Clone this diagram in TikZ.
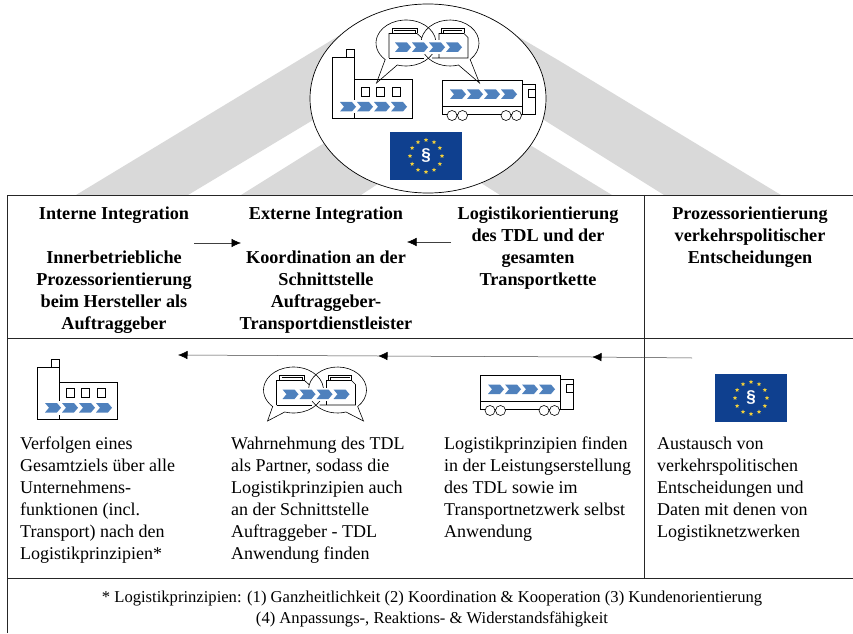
\documentclass[tikz,border=0pt]{standalone}
\usepackage{fontspec}
\setmainfont{Liberation Serif}
\setsansfont{Liberation Sans}
\usepackage{tikz}
\usetikzlibrary{arrows.meta, shapes.geometric}

\definecolor{bandgrey}{HTML}{D9D9D9}
\definecolor{chevblue}{HTML}{4F81BD}
\definecolor{flagblue}{HTML}{0F408F}
\definecolor{stargold}{HTML}{F2D03B}

\tikzset{
	bandfill/.style={fill=bandgrey, draw=none},
	rule/.style={line width=0.9pt, black!85},
	flow/.style={-{Latex[length=9.5pt,width=8.5pt,black]}, line width=0.5pt, black!75},
	icon/.style={line width=0.6pt, black},
	head/.style={font=\fontsize{18.2}{22}\selectfont\bfseries, align=center, anchor=north, inner sep=0pt},
	body/.style={font=\fontsize{18}{22}\selectfont, align=left, anchor=north west, inner sep=0pt},
	foot/.style={font=\fontsize{16.6}{20.5}\selectfont, align=center, inner sep=0pt},
	euStar/.style={star, star points=5, star point ratio=2.2, fill=stargold, draw=none, minimum size=4.5pt, inner sep=0pt},
	pics/chevrons/.style={code={
		\fill[white] (-3,-2) rectangle (71,11.5);
		\foreach \i in {0,1,2,3}
			\fill[chevblue, xshift=\i*17pt] (0,0) -- (12,0) -- (16,4.75) -- (12,9.5) -- (0,9.5) -- (4,4.75) -- cycle;
	}},
	pics/factory/.style n args={2}{code={
		\draw[icon] (0,0) rectangle (22,#1);
		\draw[icon] (14,#1) rectangle (22,#1+8);
		\draw[icon] (22,0) rectangle (80,#2);
		\foreach \i in {29.5,44.5,60.5}
			\draw[icon] (\i,21.5) rectangle ++(8,9);
		\pic at (8,6.5) {chevrons};
	}},
	pics/truck/.style={code={
		\draw[icon] (0,0) rectangle (80,34);
		\draw[icon] (0,8) -- (80,8);
		\draw[icon] (80,0) rectangle (93,30);
		\draw[icon] (86,17) rectangle (93,25);
		\pic at (8,15) {chevrons};
		\foreach \i in {10,20.5,64,74.5}
			\draw[icon, fill=white] (\i,-1.5) circle (5);
	}},
	pics/bubbles/.style n args={2}{code={
		\draw[icon] (-22,0) ++(253:30 and 23) arc[start angle=253, end angle=586, x radius=30, y radius=23] -- (-#1,-#2) -- cycle;
		\draw[icon] (22,0) ++(-46:29 and 23) arc[start angle=-46, end angle=287, x radius=29, y radius=23] -- (#1,-#2) -- cycle;
		% the two pages
		\draw[icon] (-39,-15) -- (-39,9.5) -- (-11,9.5) -- (-6,5);
		\draw[icon] (-39,-15) -- (-4,-15);
		\draw[icon] (-36,9.5) -- (-36,15) -- (-11,15) -- (-11,9.5);
		\draw[icon] (-34,13) -- (-13,13) -- (-13,9.5);
		\draw[icon] (11,-15) -- (11,9.5) -- (36,9.5) -- (40,5.5) -- (40,-15) -- (4,-15);
		\draw[icon] (13,9.5) -- (13,15) -- (36,15) -- (36,9.5);
		\draw[icon] (15,9.5) -- (15,13) -- (34,13);
		\pic at (-33,-9) {chevrons};
	}},
	pics/euFlag/.style={code={
		\fill[flagblue] (-36,-24) rectangle (36,24);
		\foreach \i in {1,...,12}
			\node[euStar] (star\i) at (\i*30:16) {};
		\node[font=\sffamily\bfseries\fontsize{17}{17}\selectfont, text=white, inner sep=0pt] (para) at (0,0) {§};
	}},
}

\begin{document}
\begin{tikzpicture}[x=1pt, y=1pt]
	\useasboundingbox (0,0) rectangle (853,633);

	\fill[bandfill] (76,438) -- (188,438) -- (313,513) -- (350,535) -- (350,604) -- (299,573) -- cycle;
	\fill[bandfill] (241,438) -- (361,438) -- (390,457) -- (345,500) -- (321,488) -- cycle;
	\fill[bandfill] (781,438) -- (664,438) -- (544,513) -- (505,536) -- (505,604) -- (558,573) -- cycle;
	\fill[bandfill] (612,438) -- (500,438) -- (470,457) -- (515,500) -- (530,488) -- cycle;

	\node[ellipse, draw, fill=white, line width=0.7pt, minimum width=236pt, minimum height=189pt, inner sep=0pt] (scope) at (428,534.5) {};

	\pic (bubblesTop) at (428,590) {bubbles={51.5}{40}};
	\pic (factoryTop) at (332,515) {factory={61}{39}};
	\pic (truckTop) at (442,519) {truck};
	\pic (flagTop) at (426,477) {euFlag};

	% table
	\draw[rule] (7.5,0) -- (7.5,438) -- (853,438);
	\draw[rule] (7.5,295) -- (853,295);
	\draw[rule] (7.5,55) -- (853,55);
	\draw[rule] (644,438) -- (644,55);

	\node[head] (internal) at (114,426) {Interne Integration\\[22pt]Innerbetriebliche\\Prozessorientierung\\beim Hersteller als\\Auftraggeber};
	\node[head] (external) at (326,426) {Externe Integration\\[22pt]Koordination an der\\Schnittstelle\\Auftraggeber-\\Transportdienstleister};
	\node[head] (logistics) at (538,426) {Logistikorientierung\\des TDL und der\\gesamten\\Transportkette};
	\node[head] (policy) at (750,426) {Prozessorientierung\\verkehrspolitischer\\Entscheidungen};

	\coordinate (internalOut) at (194,390);
	\coordinate (externalLeft) at (241,390);
	\coordinate (logisticsOut) at (451,391);
	\coordinate (externalRight) at (407,391);
	\draw[flow] (internalOut) -- (externalLeft);
	\draw[flow] (logisticsOut) -- (externalRight);

	\coordinate (flagOut) at (692,275);
	\coordinate (truckIn) at (592,276);
	\coordinate (bubblesIn) at (378,277);
	\coordinate (factoryIn) at (178,278);
	\draw[flow] (flagOut) -- (truckIn);
	\draw[flow] (truckIn) -- (bubblesIn);
	\draw[flow] (bubblesIn) -- (factoryIn);

	\pic (factoryLow) at (37,214) {factory={52}{37}};
	\pic (bubblesLow) at (315.5,243) {bubbles={48}{31}};
	\pic (truckLow) at (480,224) {truck};
	\pic (flagLow) at (751,235) {euFlag};

	\node[body] (goalText) at (20,196) {Verfolgen eines\\Gesamtziels über alle\\Unternehmens-\\funktionen (incl.\\Transport) nach den\\Logistikprinzipien*};
	\node[body] (partnerText) at (231,196) {Wahrnehmung des TDL\\als Partner, sodass die\\Logistikprinzipien auch\\an der Schnittstelle\\Auftraggeber - TDL\\Anwendung finden};
	\node[body] (serviceText) at (444,196) {Logistikprinzipien finden\\in der Leistungserstellung\\des TDL sowie im\\Transportnetzwerk selbst\\Anwendung};
	\node[body] (dataText) at (657,196) {Austausch von\\verkehrspolitischen\\Entscheidungen und\\Daten mit denen von\\Logistiknetzwerken};

	\node[foot] (principles) at (432,24) {* Logistikprinzipien: (1) Ganzheitlichkeit (2) Koordination \& Kooperation (3) Kundenorientierung\\(4) Anpassungs-, Reaktions- \& Widerstandsfähigkeit};
\end{tikzpicture}
\end{document}
